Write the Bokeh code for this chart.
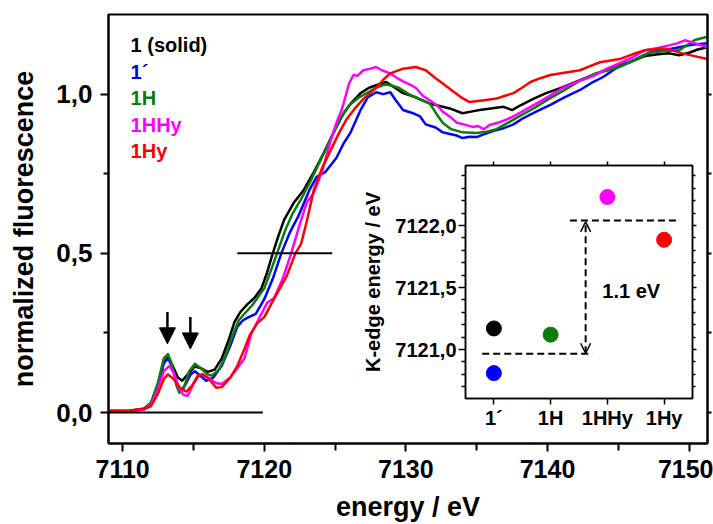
from bokeh.plotting import figure
from bokeh.layouts import column
from bokeh.models import (Range1d, FixedTicker, LinearAxis, CustomJSTickFormatter,
                          CustomLabelingPolicy, Arrow, NormalHead, OpenHead, ColumnDataSource)
from bokeh.embed import file_html
from bokeh.resources import INLINE
from bokeh.core.properties import value

FONT = "Liberation Sans"

# ---------------- main spectra ----------------
E_solid = [7109.0, 7110.5, 7111.5, 7112.0, 7112.5, 7112.9, 7113.2, 7113.5, 7113.9, 7114.2, 7114.6,
           7115.1, 7115.5, 7116.0, 7116.5, 7117.0, 7117.5, 7117.9, 7118.3, 7118.8, 7119.3, 7119.8,
           7120.2, 7120.6, 7121.0, 7121.4, 7122.1, 7122.8, 7123.5, 7124.2, 7124.9, 7125.6, 7126.2,
           7126.8, 7127.4, 7127.9, 7128.6, 7129.3, 7129.8, 7130.7, 7131.7, 7132.1, 7133.1, 7134.0,
           7134.6, 7135.2, 7136.0, 7136.9, 7137.5, 7138.1, 7139.0, 7139.9, 7141.0, 7142.3, 7143.5,
           7144.6, 7145.8, 7146.9, 7147.8, 7148.6, 7149.3, 7150.0, 7150.6, 7151.3]
Y_solid = [0.005, 0.006, 0.012, 0.03, 0.09, 0.155, 0.175, 0.15, 0.11, 0.10, 0.12,
           0.145, 0.14, 0.128, 0.135, 0.17, 0.23, 0.285, 0.315, 0.34, 0.36, 0.39,
           0.44, 0.50, 0.555, 0.605, 0.66, 0.70, 0.755, 0.815, 0.88, 0.94, 0.975,
           1.003, 1.02, 1.028, 1.038, 1.018, 1.003, 0.99, 0.97, 0.966, 0.955, 0.94,
           0.945, 0.95, 0.955, 0.96, 0.95, 0.965, 0.985, 1.003, 1.02, 1.044, 1.065,
           1.085, 1.10, 1.12, 1.125, 1.128, 1.122, 1.13, 1.14, 1.147]

E_prime = [7109.0, 7110.5, 7111.5, 7112.0, 7112.5, 7112.9, 7113.2, 7113.5, 7113.8, 7114.1, 7114.4,
           7114.8, 7115.1, 7115.5, 7115.9, 7116.4, 7117.0, 7117.6, 7118.1, 7118.5, 7118.9, 7119.4,
           7120.0, 7120.6, 7121.2, 7121.8, 7122.4, 7123.2, 7123.7, 7124.3, 7125.1, 7125.6, 7126.1,
           7126.8, 7127.3, 7127.9, 7128.4, 7128.9, 7129.3, 7129.8, 7130.5, 7131.0, 7131.4, 7132.1,
           7132.6, 7133.1, 7133.6, 7134.0, 7134.5, 7135.0, 7135.4, 7136.2, 7136.9, 7137.6, 7138.3,
           7139.2, 7140.2, 7141.2, 7142.3, 7143.1, 7143.9, 7144.8, 7145.8, 7146.7, 7147.6, 7148.5,
           7149.3, 7150.2, 7151.3]
Y_prime = [0.004, 0.005, 0.01, 0.025, 0.085, 0.155, 0.17, 0.145, 0.095, 0.07, 0.085,
           0.12, 0.13, 0.115, 0.10, 0.11, 0.147, 0.21, 0.27, 0.29, 0.30, 0.31,
           0.356, 0.42, 0.50, 0.565, 0.616, 0.70, 0.74, 0.755, 0.80, 0.845, 0.88,
           0.95, 0.99, 1.006, 1.0, 1.006, 0.98, 0.95, 0.94, 0.93, 0.905, 0.895,
           0.88, 0.875, 0.87, 0.862, 0.866, 0.865, 0.872, 0.885, 0.893, 0.905, 0.925,
           0.945, 0.966, 0.99, 1.013, 1.035, 1.053, 1.08, 1.10, 1.12, 1.138, 1.14,
           1.147, 1.155, 1.16]

E_1H = [7109.0, 7110.5, 7111.5, 7112.0, 7112.5, 7112.9, 7113.2, 7113.5, 7113.8, 7114.0, 7114.3,
        7114.7, 7115.1, 7115.5, 7116.0, 7116.3, 7116.8, 7117.2, 7117.7, 7118.2, 7118.7, 7119.2,
        7120.0, 7120.5, 7120.9, 7121.5, 7122.0, 7122.6, 7123.3, 7124.0, 7124.7, 7125.4, 7126.0,
        7126.7, 7127.3, 7127.9, 7128.5, 7128.9, 7129.5, 7130.2, 7130.9, 7131.7, 7132.2, 7132.6,
        7133.2, 7134.0, 7135.0, 7135.7, 7136.4, 7137.0, 7137.6, 7138.4, 7139.2, 7140.1, 7141.1,
        7142.2, 7143.4, 7144.3, 7145.3, 7146.3, 7147.2, 7148.2, 7149.3, 7149.9, 7150.4, 7151.3]
Y_1H = [0.005, 0.006, 0.012, 0.03, 0.095, 0.17, 0.184, 0.15, 0.085, 0.062, 0.075,
        0.13, 0.153, 0.14, 0.12, 0.116, 0.135, 0.17, 0.235, 0.29, 0.315, 0.34,
        0.39, 0.45, 0.50, 0.575, 0.625, 0.67, 0.73, 0.795, 0.86, 0.925, 0.965,
        0.99, 1.005, 1.02, 1.03, 1.028, 1.02, 1.0, 0.985, 0.97, 0.935, 0.91,
        0.89, 0.88, 0.878, 0.882, 0.89, 0.905, 0.92, 0.94, 0.96, 0.985, 1.01,
        1.04, 1.065, 1.075, 1.09, 1.11, 1.13, 1.135, 1.138, 1.155, 1.17, 1.18]

E_1HHy = [7109.0, 7110.5, 7111.5, 7112.0, 7112.5, 7112.9, 7113.3, 7113.6, 7114.0, 7114.3, 7114.6,
          7115.0, 7115.4, 7115.7, 7116.2, 7116.6, 7117.0, 7117.6, 7118.1, 7118.6, 7119.1, 7119.5,
          7120.2, 7120.7, 7121.3, 7121.9, 7122.5, 7123.0, 7123.5, 7124.1, 7124.7, 7125.1, 7125.5,
          7126.0, 7126.3, 7126.6, 7127.0, 7127.5, 7127.9, 7128.3, 7128.9, 7129.4, 7129.8, 7130.3,
          7130.7, 7131.2, 7131.7, 7132.2, 7132.6, 7133.1, 7133.6, 7134.1, 7134.7, 7135.1, 7135.5,
          7135.9, 7136.5, 7137.1, 7137.8, 7138.8, 7139.8, 7141.1, 7142.2, 7143.4, 7144.2, 7145.1,
          7146.0, 7146.9, 7147.8, 7148.6, 7149.2, 7149.7, 7150.4, 7151.3]
Y_1HHy = [0.004, 0.005, 0.01, 0.025, 0.075, 0.13, 0.147, 0.125, 0.075, 0.055, 0.053,
          0.09, 0.118, 0.12, 0.105, 0.093, 0.09, 0.11, 0.14, 0.17, 0.25, 0.284,
          0.345, 0.36, 0.42, 0.50, 0.59, 0.66, 0.69, 0.76, 0.856, 0.91, 0.955,
          1.035, 1.06, 1.058, 1.075, 1.08, 1.085, 1.075, 1.065, 1.05, 1.04, 1.03,
          1.02, 0.995, 0.98, 0.965, 0.945, 0.93, 0.91, 0.905, 0.897, 0.90, 0.89,
          0.903, 0.91, 0.92, 0.935, 0.96, 0.985, 1.02, 1.04, 1.06, 1.08, 1.097,
          1.115, 1.138, 1.145, 1.153, 1.16, 1.169, 1.16, 1.147]

E_1Hy = [7109.0, 7110.5, 7111.5, 7112.0, 7112.5, 7112.9, 7113.2, 7113.6, 7114.1, 7114.5, 7114.9,
         7115.3, 7115.6, 7116.0, 7116.6, 7117.0, 7117.6, 7118.1, 7118.6, 7119.0, 7119.5, 7120.0,
         7120.6, 7121.1, 7121.6, 7122.2, 7122.6, 7123.0, 7123.5, 7124.1, 7124.7, 7125.3, 7125.8,
         7126.4, 7127.0, 7127.9, 7128.4, 7128.9, 7129.8, 7130.7, 7131.4, 7132.1, 7132.7, 7133.3,
         7133.9, 7134.5, 7135.4, 7136.4, 7137.0, 7137.6, 7138.2, 7138.8, 7139.5, 7140.2, 7141.3,
         7142.3, 7143.0, 7143.7, 7145.1, 7146.0, 7146.9, 7148.1, 7148.8, 7149.5, 7150.3, 7151.3]
Y_1Hy = [0.006, 0.007, 0.012, 0.02, 0.06, 0.105, 0.12, 0.105, 0.075, 0.066, 0.085,
         0.115, 0.12, 0.11, 0.078, 0.08, 0.11, 0.147, 0.20, 0.245, 0.28, 0.30,
         0.35, 0.39, 0.43, 0.50, 0.53, 0.60, 0.70, 0.77, 0.825, 0.88, 0.92,
         0.955, 0.985, 1.02, 1.045, 1.065, 1.08, 1.085, 1.075, 1.05, 1.03, 1.01,
         0.99, 0.975, 0.98, 0.986, 0.995, 1.003, 1.02, 1.038, 1.05, 1.06, 1.068,
         1.075, 1.088, 1.10, 1.11, 1.125, 1.138, 1.143, 1.138, 1.128, 1.12, 1.11]

SERIES_NAMES = ["1 (solid)", "1\u00b4", "1H", "1HHy", "1Hy"]
SERIES_COLORS = ["#000000", "#0000ff", "#0a7d0a", "#ff00ff", "#ff0000"]
SERIES_E = [E_solid, E_prime, E_1H, E_1HHy, E_1Hy]
SERIES_Y = [Y_solid, Y_prime, Y_1H, Y_1HHy, Y_1Hy]

# reference lines (x0, x1, y) and pre-edge arrows
BASE_LINE = (7109.0, 7119.9, 0.0)
HALF_LINE = (7118.1, 7124.8, 0.5)
ARROW_E = [7113.16, 7114.78]
ARROW_Y_TOP = [0.316, 0.300]
ARROW_Y_TIP = [0.216, 0.200]

X_TICKS = [7110, 7120, 7130, 7140, 7150]
X_MINOR = [7115, 7125, 7135, 7145]
Y_TICKS = [0.0, 0.5, 1.0]
Y_MINOR = [0.25, 0.75]

# ---------------- inset: K-edge energies ----------------
INSET_CATS = ["1\u00b4", "1H", "1HHy", "1Hy"]
K_POS = [0, 0, 1, 2, 3]
K_EDGE = [7121.17, 7120.81, 7121.12, 7122.23, 7121.885]
K_COLORS = ["#000000", "#0000ff", "#0a7d0a", "#ff00ff", "#ff0000"]
K_LOW = (-0.205, 1.735, 7120.965)
K_HIGH = (1.34, 3.28, 7122.04)
K_ARROW = (1.617, 7120.97, 7122.03)
K_SHIFT_TEXT = "1.1 eV"
K_TEXT_POS = (1.91, 7121.47)
INSET_Y_TICKS = [7121.0, 7121.5, 7122.0]
INSET_Y_MINOR = [7120.7, 7120.8, 7120.9, 7121.1, 7121.2, 7121.3, 7121.4,
                 7121.6, 7121.7, 7121.8, 7121.9, 7122.1, 7122.2, 7122.3, 7122.4]

NO_LABELS = CustomLabelingPolicy(code="return new Set()")


def style_axis(ax, size, tick_out=8, minor_out=6, lw=2):
    ax.axis_line_width = lw
    ax.axis_line_color = "black"
    ax.major_tick_line_width = lw
    ax.minor_tick_line_width = lw
    ax.major_tick_line_color = "black"
    ax.minor_tick_line_color = "black"
    ax.major_tick_in = 0
    ax.major_tick_out = tick_out
    ax.minor_tick_in = 0
    ax.minor_tick_out = minor_out
    ax.major_label_text_font = FONT
    ax.major_label_text_font_style = "bold"
    ax.major_label_text_font_size = size
    ax.major_label_text_color = "black"
    ax.axis_label_text_font = FONT
    ax.axis_label_text_font_style = "bold"
    ax.axis_label_text_color = "black"


comma_fmt = CustomJSTickFormatter(code="return tick.toFixed(1).replace('.', ',');")

p = figure(frame_width=599, frame_height=431,
           min_border_left=104, min_border_right=10, min_border_top=14, min_border_bottom=79,
           x_range=Range1d(7109.0, 7151.3), y_range=Range1d(-0.097, 1.25),
           output_backend="svg", toolbar_location=None,
           background_fill_color="white", border_fill_color="white",
           styles={"position": "absolute", "left": "0px", "top": "0px"})
p.grid.visible = False
p.outline_line_color = "black"
p.outline_line_width = 2

xa = p.xaxis[0]
xa.ticker = FixedTicker(ticks=X_TICKS, minor_ticks=X_MINOR)
style_axis(xa, "25px", tick_out=8, minor_out=7)
xa.major_label_standoff = 8
xa.axis_label = "energy / eV"
xa.axis_label_text_font_size = "27px"
xa.axis_label_standoff = 11

ya = p.yaxis[0]
ya.ticker = FixedTicker(ticks=Y_TICKS, minor_ticks=Y_MINOR)
ya.formatter = comma_fmt
style_axis(ya, "26px", tick_out=8, minor_out=5)
ya.major_label_standoff = 8
ya.axis_label = "normalized fluorescence"
ya.axis_label_text_font_size = "27px"
ya.axis_label_standoff = 14

ra = LinearAxis(ticker=FixedTicker(ticks=Y_TICKS, minor_ticks=Y_MINOR))
style_axis(ra, "1px", tick_out=4, minor_out=4)
ra.major_label_policy = NO_LABELS
ra.major_label_standoff = 0
p.add_layout(ra, "right")

for e, y, c in zip(SERIES_E, SERIES_Y, SERIES_COLORS):
    p.line(e, y, line_color=c, line_width=2.5, line_join="round")

p.segment(x0=[BASE_LINE[0]], x1=[BASE_LINE[1]], y0=[BASE_LINE[2]], y1=[BASE_LINE[2]],
          line_color="black", line_width=2)
p.segment(x0=[HALF_LINE[0]], x1=[HALF_LINE[1]], y0=[HALF_LINE[2]], y1=[HALF_LINE[2]],
          line_color="black", line_width=2)

arrow_src = ColumnDataSource(dict(xs=ARROW_E, xe=ARROW_E, ys=ARROW_Y_TOP, ye=ARROW_Y_TIP))
p.add_layout(Arrow(end=NormalHead(size=16, fill_color="black", line_color="black", line_width=1),
                   x_start="xs", y_start="ys", x_end="xe", y_end="ye", source=arrow_src,
                   line_width=2.5, line_color="black"))

# coloured name list (legend-like)
leg_y0, leg_dy = 1.153, 0.083
leg_src = ColumnDataSource(dict(
    x=[7110.56] * len(SERIES_NAMES),
    y=[leg_y0 - i * leg_dy for i in range(len(SERIES_NAMES))],
    t=SERIES_NAMES, c=SERIES_COLORS))
p.text(x="x", y="y", text="t", text_color="c", source=leg_src,
       text_font=value(FONT), text_font_style="bold", text_font_size="20px",
       text_baseline="middle", text_align="left")

# ---------------- inset figure ----------------
ins = figure(frame_width=227, frame_height=233,
             min_border_left=108, min_border_right=6, min_border_top=6, min_border_bottom=40,
             x_range=Range1d(-0.5, 3.5), y_range=Range1d(7120.605, 7122.484),
             output_backend="svg", toolbar_location=None,
             background_fill_color="white", border_fill_color=None,
             styles={"position": "absolute", "left": "357px", "top": "157px"})
ins.grid.visible = False
ins.outline_line_color = "black"
ins.outline_line_width = 1.5

ixa = ins.xaxis[0]
ixa.ticker = FixedTicker(ticks=list(range(len(INSET_CATS))), minor_ticks=[])
ixa.major_label_overrides = {i: s for i, s in enumerate(INSET_CATS)}
style_axis(ixa, "20px", tick_out=6, minor_out=0, lw=1.5)
ixa.major_label_standoff = 2

iya = ins.yaxis[0]
iya.ticker = FixedTicker(ticks=INSET_Y_TICKS, minor_ticks=INSET_Y_MINOR)
iya.formatter = comma_fmt
style_axis(iya, "20px", tick_out=7, minor_out=4, lw=1.5)
iya.major_label_standoff = 2
iya.axis_label = "K-edge energy / eV"
iya.axis_label_text_font_size = "20px"
iya.axis_label_standoff = 8

ira = LinearAxis(ticker=FixedTicker(ticks=INSET_Y_TICKS, minor_ticks=INSET_Y_MINOR))
style_axis(ira, "1px", tick_out=4, minor_out=3, lw=1.5)
ira.major_label_policy = NO_LABELS
ira.major_label_standoff = 0
ins.add_layout(ira, "right")

ita = LinearAxis(ticker=FixedTicker(ticks=list(range(len(INSET_CATS))), minor_ticks=[]))
style_axis(ita, "1px", tick_out=4, minor_out=0, lw=1.5)
ita.major_label_policy = NO_LABELS
ita.major_label_standoff = 0
ins.add_layout(ita, "above")

ins.segment(x0=[K_LOW[0], K_HIGH[0]], x1=[K_LOW[1], K_HIGH[1]],
            y0=[K_LOW[2], K_HIGH[2]], y1=[K_LOW[2], K_HIGH[2]],
            line_color="black", line_width=2, line_dash="7 4")
ins.add_layout(Arrow(start=OpenHead(size=10, line_width=1.5, line_color="black"),
                     end=OpenHead(size=10, line_width=1.5, line_color="black"),
                     x_start=K_ARROW[0], y_start=K_ARROW[1], x_end=K_ARROW[0], y_end=K_ARROW[2],
                     line_width=2, line_dash="7 4", line_color="black"))
ins.text(x=[K_TEXT_POS[0]], y=[K_TEXT_POS[1]], text=[K_SHIFT_TEXT],
         text_font=value(FONT), text_font_style="bold", text_font_size="20px",
         text_baseline="middle", text_align="left", text_color="black")
ins.scatter(x=K_POS, y=K_EDGE, size=15, fill_color=K_COLORS, line_color=K_COLORS)

layout = column(p, ins, styles={"position": "absolute", "left": "0px", "top": "0px",
                                "width": "713px", "height": "524px", "overflow": "hidden"})

open("out.html", "w").write(file_html(layout, INLINE))
